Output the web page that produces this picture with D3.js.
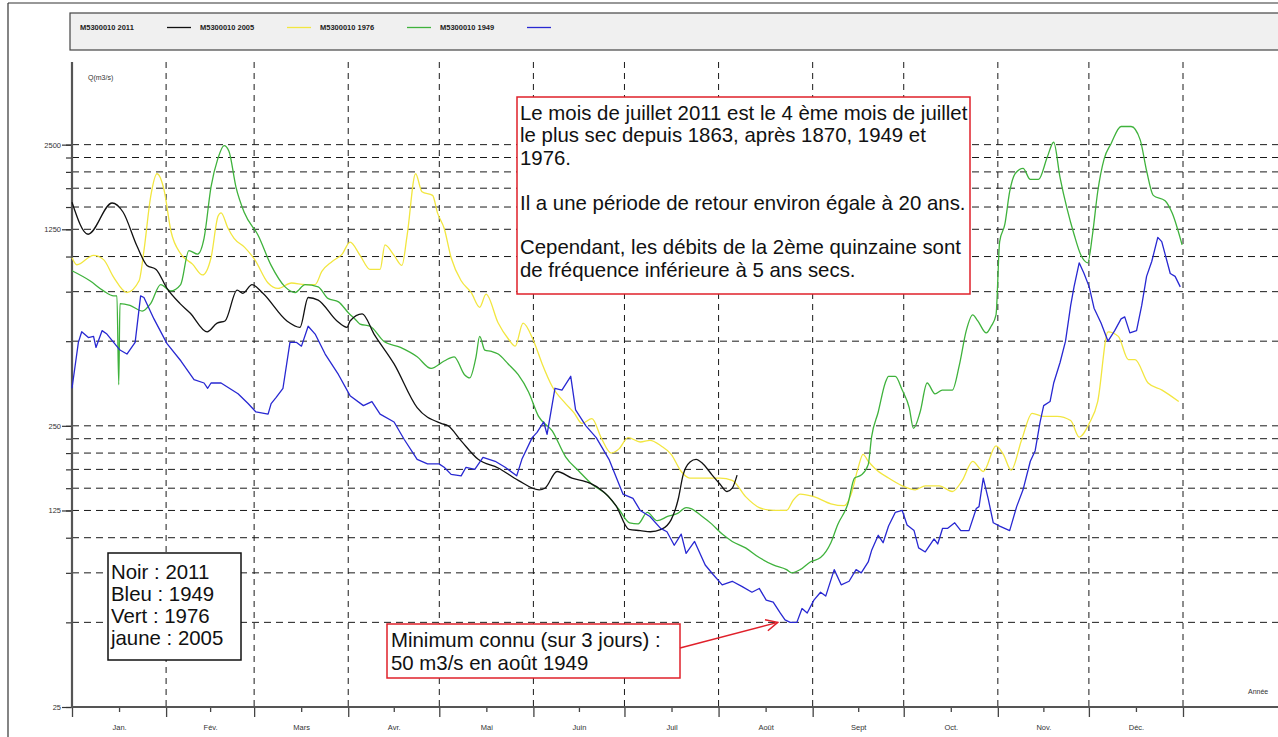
<!DOCTYPE html>
<html><head><meta charset="utf-8">
<script src="https://cdn.jsdelivr.net/npm/d3@7"></script>
<style>
body{margin:0;background:#fff}
svg{display:block}
</style>
</head><body>
<svg id="chart" width="1278" height="737"></svg>
<script>
// Débits journaliers de la station M5300010 (m3/s), jour de l'année 0..366
const months = ["Jan.","Fév.","Mars","Avr.","Mai","Juin","Juil","Août","Sept","Oct.","Nov.","Déc."];
const monthStarts = [0,31,60,91,121,152,182,213,244,274,305,335,366];
const yMajorTicks = [25,125,250,1250,2500];
const yGridValues = [25,50,75,100,125,150,175,200,225,250,500,750,1000,1250,1500,1750,2000,2250,2500];

const day2011 = [0,5.3,13.2,16.8,21.4,24.7,27.7,31.3,35.6,38.9,44.5,47.8,50.4,54.4,56.3,59.3,62.9,70.8,75.1,77.8,81.1,87.3,90.6,91.6,95.6,99.5,106.1,113.7,121.6,123.9,128.2,133.8,140.4,147,153.9,155.8,159.8,164.7,169.4,173.6,179.2,183.5,187.2,190.5,194.1,197.4,199.7,201.3,203.6,205.6,207.9,210.9,213.5,215.8,217.5,219.1];
const q2011 = [1560,1200,1550,1440,1090,930,900,770,680,630,540,580,590,760,740,795,740,590,560,715,700,590,560,590,625,530,415,290,255,250,221,190,177,160,148,150,172,163,158,150,130,107,106,105,107,116,137,167,186,190,183,167,155,146,150,167];

const day2005 = [0,1.6,7.1,10.4,13.7,18.1,22.1,23.7,25.9,28,30.3,32.6,35.9,39.7,43,45.8,48.1,49.1,51.4,53.4,56.8,60.2,64.6,67.9,72.3,76.8,80.1,82.3,85.7,89,91.6,94.9,98.2,101.5,103.1,106.1,108.7,110.4,113.2,115.3,118.8,120.4,122.6,124.9,128.2,131.5,134.3,136.4,140.4,143.7,146,148.6,152.1,154.9,158.2,162.6,165.4,168,171.3,174.3,177.6,180.2,183.2,187.2,190.4,194.1,197.4,200.7,203.5,208.6,213.5,217.5,221.9,226.4,231,235.4,237.6,239.9,244.4,250,254.4,256.7,258.9,260.6,262.3,264.6,269,273.5,277.8,281.1,285.7,290,293.3,296.7,300.2,304.4,306.8,309.4,312.8,316.3,320.1,324.5,329,331.8,335.1,337.9,341.3,344.7,348,350.2,354.5,359.1,364.6];
const q2005 = [990,935,1010,975,845,745,820,1050,1630,1970,1730,1230,1020,940,860,990,1390,1430,1260,1160,1080,975,805,770,805,795,795,885,960,1020,1125,1010,900,900,1100,1010,930,1190,1970,1700,1650,1430,1260,990,820,745,660,735,580,510,480,580,500,415,345,300,278,255,265,227,200,207,227,219,222,212,198,172,163,163,163,160,140,128,125,125,136,143,140,132,130,143,176,198,187,176,163,153,148,153,153,146,160,187,172,212,198,174,222,277,270,270,261,228,255,305,540,520,430,430,355,335,305];

const day1976 = [0,5.9,10.4,13.7,14.8,15.4,15.8,19.1,23.1,25.9,29.2,32.5,35.8,38.5,41.4,43.5,45.8,48,50.1,51.7,54,56.8,61.3,65.6,70.2,73.5,76.8,81.1,84.3,87.8,91.1,93.2,94.9,98.2,102.7,108.2,113.7,118.3,122.6,125.9,129.3,131,133.1,134.3,136,138.2,140.4,143.7,147,150.4,153.7,158.2,162.6,167.1,171.3,175.9,180.2,183.7,186.5,189.5,192.8,196.2,199.5,202.3,203.9,207.2,210.7,214.2,217.5,221.9,226.4,231,235.4,237.1,239.9,243.2,246.6,250,252.2,255.6,257.8,260,262.3,263.4,265.6,267.9,269,271.2,273.5,275.8,277.2,279.4,281.7,284.3,286.7,290,292.3,294.6,296.7,298.4,301.2,302.8,304.4,305.6,307.3,308.9,310.7,313.3,315.7,318.4,321.3,323.4,325.5,327.8,330.1,332.4,334.6,336.2,337.9,340,342.3,345.6,348.9,351.9,354,356.2,360.1,362.4,365.7];
const q1976 = [890,820,755,725,725,350,680,670,640,680,795,755,795,1050,1020,1160,1770,2220,2480,2370,1770,1430,1190,930,780,745,795,780,710,690,630,600,575,565,500,475,440,400,425,440,380,370,440,520,465,460,450,415,380,330,270,240,194,172,155,143,126,113,112,123,115,119,122,128,127,120,112,103,97,92,85,80,77,75,77,82,85,96,111,132,163,167,182,228,280,355,375,375,335,290,245,280,355,325,335,335,410,545,620,590,535,565,620,1130,1300,1700,1970,2060,1880,1880,2260,2550,1910,1480,1200,1010,950,1200,1700,2220,2520,2900,2900,2600,2020,1650,1580,1430,1100];

const day1949 = [0,2.1,3.2,5.4,7.1,7.9,9.9,11.5,15.8,18.1,20.8,22.6,23.7,27,31.3,35.9,40.2,43.5,44.7,45.8,49.1,54.7,58,60.6,64.6,65.6,67.2,69.5,71.8,74,75.6,77.8,80.1,83.4,87.8,91.6,96,98.8,101.5,106.1,109.4,113.7,117.1,120.9,122.6,124.9,128.2,129.8,132.7,135.4,139.4,142.7,146.5,148.2,151.6,153.2,155.4,156.5,159.1,161.4,164.3,165.9,169.3,172.7,176.9,181.5,184.8,187.2,190.4,193.9,196,198.4,200.7,202.3,205.1,208.6,211.2,214.2,217.5,220.8,224,226.4,228.7,231,233.3,234.9,236.6,238.8,240.5,242.2,244.4,246.6,248.3,251.1,253.4,256,258.3,260,262.3,263.4,265.6,267.2,269,271.2,273.5,275.1,277.4,278.9,281.1,284,285.2,286.8,288.5,290.8,292.8,295.5,297.9,298.8,300.2,301.8,303.5,305.6,308.9,311.2,313.3,315.7,317.3,318.9,320.1,322.2,323.4,325.5,327.3,329,330.1,331.8,333.4,335.1,336.7,339,341.3,343.5,345.6,346.8,348.5,350.7,352.4,354,355.7,357.7,359,361.8,363.4,365.1];
const q1949 = [340,495,540,515,520,475,545,530,465,450,495,725,715,600,490,425,365,355,340,355,355,325,300,280,275,300,315,340,495,495,480,565,530,450,380,320,295,305,275,258,224,190,183,183,178,168,166,178,175,193,187,178,166,190,227,237,258,233,340,335,375,285,250,227,190,143,138,125,119,108,105,94,103,88,97,80,74,68,70,67,64,66,60,59,54,51,50,50,56,54,60,64,62,77,68,70,77,75,82,90,102,96,110,123,125,111,106,92,89,99,95,108,108,113,106,106,127,129,163,138,113,110,106,129,148,187,204,257,295,305,355,420,500,670,780,950,870,780,655,580,500,545,600,610,535,545,670,850,960,1170,1130,870,850,780];

const seriesNames = ["M5300010 2011","M5300010 2005","M5300010 1976","M5300010 1949"];
const seriesColors = ["#111111","#f2e640","#3fb23c","#2828d2"];
const seriesDays = [day2011, day2005, day1976, day1949];
const seriesValues = [q2011, q2005, q1976, q1949];

const svg = d3.select("#chart");
const W = 1278, H = 737;
const pLeft = 72, pRight = 1183, pTop = 62, pBottom = 707;

const x = d3.scaleLinear().domain([0, 366]).range([pLeft, pRight]);
const y = d3.scaleLog().domain([25, 5000]).range([pBottom, 60]);

svg.append("rect").attr("width", W).attr("height", H).attr("fill", "#fff");

// page frame
svg.append("line").attr("x1", 8).attr("x2", W).attr("y1", 3).attr("y2", 3)
  .attr("stroke", "#333").attr("stroke-width", 1.2);
svg.append("line").attr("x1", 8).attr("x2", 8).attr("y1", 3).attr("y2", H)
  .attr("stroke", "#333").attr("stroke-width", 1.2);

// legend band
svg.append("rect").attr("x", 70).attr("y", 13).attr("width", W - 60).attr("height", 37)
  .attr("fill", "#f0f0f0").attr("stroke", "#444").attr("stroke-width", 1.2);
const lg = svg.append("g").attr("font-family", "Arial, 'Liberation Sans', sans-serif")
  .attr("font-size", 7.5).attr("font-weight", "bold").attr("fill", "#222");
seriesNames.forEach((n, i) => {
  const x0 = 80 + i * 120;
  lg.append("text").attr("x", x0).attr("y", 30).text(n);
  lg.append("line").attr("x1", x0 + 87).attr("x2", x0 + 111).attr("y1", 27.5).attr("y2", 27.5)
    .attr("stroke", seriesColors[i]).attr("stroke-width", 1.3);
});

// horizontal grid
svg.append("g").selectAll("line").data(yGridValues).join("line")
  .attr("x1", pLeft).attr("x2", W).attr("y1", d => y(d)).attr("y2", d => y(d))
  .attr("stroke", "#1a1a1a").attr("stroke-width", 1).attr("stroke-dasharray", "7,5");

// vertical grid at month boundaries
svg.append("g").selectAll("line").data(monthStarts.slice(1)).join("line")
  .attr("x1", d => x(d)).attr("x2", d => x(d)).attr("y1", pTop).attr("y2", pBottom)
  .attr("stroke", "#1a1a1a").attr("stroke-width", 1).attr("stroke-dasharray", "6,5");

// axes
const axisFont = "Arial, 'Liberation Sans', sans-serif";
const yMinor = svg.append("g").attr("transform", `translate(${pLeft},0)`)
  .call(d3.axisLeft(y).tickValues(yGridValues).tickSize(6).tickFormat(""));
yMinor.select(".domain").remove();
yMinor.selectAll(".tick line").attr("stroke", "#333").attr("stroke-width", 1.2);

const yMajor = svg.append("g").attr("transform", `translate(${pLeft},0)`)
  .call(d3.axisLeft(y).tickValues(yMajorTicks).tickSize(10).tickPadding(1).tickFormat(d3.format("d")));
yMajor.select(".domain").remove();
yMajor.selectAll(".tick line").attr("stroke", "#333").attr("stroke-width", 1.2);
yMajor.selectAll("text").attr("font-family", axisFont).attr("font-size", 7.5).attr("fill", "#333");

const xBound = svg.append("g").attr("transform", `translate(0,${pBottom})`)
  .call(d3.axisBottom(x).tickValues(monthStarts).tickSize(10).tickFormat(""));
xBound.select(".domain").remove();
xBound.selectAll(".tick line").attr("stroke", "#444").attr("stroke-width", 1.3);

const mids = months.map((m, i) => (monthStarts[i] + monthStarts[i + 1]) / 2);
const xMid = svg.append("g").attr("transform", `translate(0,${pBottom})`)
  .call(d3.axisBottom(x).tickValues(mids).tickSize(5).tickPadding(13).tickFormat((d, i) => months[i]));
xMid.select(".domain").remove();
xMid.selectAll(".tick line").attr("stroke", "#444").attr("stroke-width", 1.3);
xMid.selectAll("text").attr("font-family", axisFont).attr("font-size", 7.5).attr("fill", "#333");

// axis lines
svg.append("line").attr("x1", pLeft).attr("x2", pLeft).attr("y1", pTop).attr("y2", pBottom + 1)
  .attr("stroke", "#555").attr("stroke-width", 2.2);
svg.append("line").attr("x1", pLeft - 1).attr("x2", W).attr("y1", pBottom).attr("y2", pBottom)
  .attr("stroke", "#555").attr("stroke-width", 2.2);

svg.append("text").attr("x", 88).attr("y", 80).attr("font-family", axisFont)
  .attr("font-size", 7).attr("fill", "#333").text("Q(m3/s)");
svg.append("text").attr("x", 1248).attr("y", 694).attr("font-family", axisFont)
  .attr("font-size", 7).attr("fill", "#333").text("Année");

// series
const plot = svg.append("g");
[1, 2, 0, 3].forEach(i => {
  const pts = seriesDays[i].map((d, k) => [d, seriesValues[i][k]]);
  const line = d3.line().x(p => x(p[0])).y(p => y(p[1]))
    .curve(i === 3 ? d3.curveLinear : d3.curveMonotoneX);
  plot.append("path").datum(pts).attr("d", line).attr("fill", "none")
    .attr("stroke", seriesColors[i]).attr("stroke-width", 1.3).attr("stroke-linejoin", "round");
});

// annotation boxes
const noteFont = "Arial, 'Liberation Sans', sans-serif";
function box(x0, y0, w, h, stroke) {
  svg.append("rect").attr("x", x0).attr("y", y0).attr("width", w).attr("height", h)
    .attr("fill", "#fff").attr("stroke", stroke).attr("stroke-width", 1.5);
}
function lines(x0, y0, step, arr) {
  const t = svg.append("text").attr("font-family", noteFont).attr("font-size", 20.4).attr("fill", "#111");
  arr.forEach((s, i) => { if (s) t.append("tspan").attr("x", x0).attr("y", y0 + i * step).text(s); });
}

box(517, 97, 453, 197, "#e0202a");
lines(520, 120, 22.4, [
  "Le mois de juillet 2011 est le 4 ème mois de juillet",
  "le plus sec depuis 1863, après 1870, 1949 et",
  "1976.",
  "",
  "Il a une période de retour environ égale à 20 ans.",
  "",
  "Cependant, les débits de la 2ème quinzaine sont",
  "de fréquence inférieure à 5 ans secs."
]);

box(108, 553, 133, 107, "#111");
lines(111, 579, 22, ["Noir : 2011", "Bleu : 1949", "Vert : 1976", "jaune : 2005"]);

box(387, 624, 293, 54, "#e0202a");
lines(391, 647, 22.5, ["Minimum connu (sur 3 jours) :", "50 m3/s en août 1949"]);

// arrow pointing at the 1949 minimum
const ax0 = 680, ay0 = 648, ax1 = x(232.5), ay1 = y(50);
svg.append("line").attr("x1", ax0).attr("y1", ay0).attr("x2", ax1).attr("y2", ay1)
  .attr("stroke", "#e0202a").attr("stroke-width", 1.5);
const ang = Math.atan2(ay1 - ay0, ax1 - ax0);
const hl = 13, ha = 0.45;
svg.append("path")
  .attr("d", `M${ax1 - hl * Math.cos(ang - ha)},${ay1 - hl * Math.sin(ang - ha)} L${ax1},${ay1} L${ax1 - hl * Math.cos(ang + ha)},${ay1 - hl * Math.sin(ang + ha)}`)
  .attr("fill", "none").attr("stroke", "#e0202a").attr("stroke-width", 1.5);
</script>
</body></html>
